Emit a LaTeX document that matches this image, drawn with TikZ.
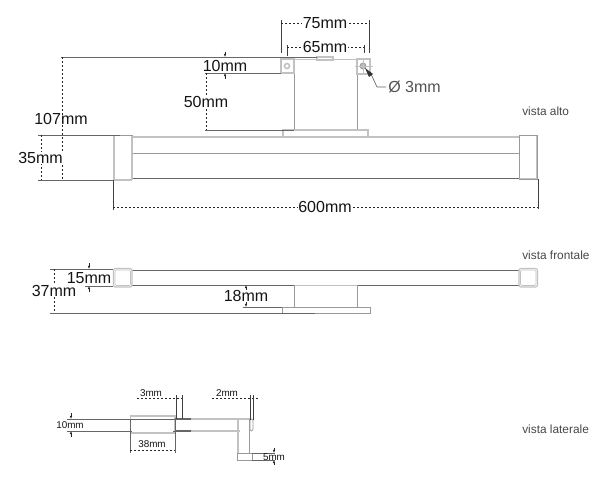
\documentclass[tikz,border=0pt]{standalone}
\usepackage{fontspec}
\setmainfont{Liberation Sans}
\usetikzlibrary{arrows.meta}
\definecolor{lnk}{gray}{0.40}
\definecolor{lnm}{gray}{0.60}
\definecolor{lnl}{gray}{0.76}
\definecolor{txk}{gray}{0.08}
\tikzset{
  part/.style={draw=lnm,line width=0.6pt},
  partl/.style={draw=lnl,line width=0.9pt},
  ref/.style={draw=lnk,line width=0.55pt},
  dim/.style={draw=black!85,line width=0.55pt,dash pattern=on 1.5pt off 1.5pt},
  dimv/.style={draw=black!75,line width=0.5pt},
  tick/.style={draw=black!85,line width=0.45pt,-{Latex[length=2.4pt,width=2pt]}},
  big/.style={text=txk,font=\fontsize{12}{13}\selectfont,inner sep=0.5pt,fill=white},
  bign/.style={text=txk,font=\fontsize{12}{13}\selectfont,inner sep=0pt},
  small/.style={text=txk,font=\fontsize{7.4}{8}\selectfont,inner sep=0pt},
  view/.style={text=black!72,font=\fontsize{8.9}{9}\selectfont,inner sep=0pt,anchor=west},
}
\begin{document}
\begin{tikzpicture}[x=0.75pt,y=-0.75pt]
\useasboundingbox (0,0) rectangle (600,478);
\begin{scope}
\clip (0,0) rectangle (600,478);
% ---- top view
\draw[partl] (132,137) -- (519,137);
\draw[part] (132,153) -- (519,153);
\draw[ref] (132,178) -- (519,178);
\draw[part] (113.5,135.5) rectangle (132,179.5);
\draw[lnl,line width=1.5pt] (114,135.5) -- (114,179.5) (114,179.5) -- (132,179.5);
\draw[lnl,line width=1.5pt] (131.5,135.5) -- (131.5,179.5);
\draw[part] (519,135.5) rectangle (537.5,179);
\draw[lnl,line width=1.2pt] (536.5,135.5) -- (536.5,179) (519,178.5) -- (537,178.5);
\draw[part] (294,59) rectangle (357,130);
\draw[partl] (283,130) rectangle (368,137);
\draw[partl] (281,59) rectangle (294,73);
\draw[partl] (357,59) rectangle (370,74);
\draw[partl] (317,57) rectangle (333,60);
\draw[partl,line width=1.2pt] (287,66) circle (2.5);
\draw[part,fill=lnm!70] (363,66) circle (3);
\draw[lnl,line width=0.5pt] (355,66) -- (373,66) (363,58) -- (363,75);
% references
\draw[ref] (61,57) -- (317,57);
\draw[lnl,line width=0.6pt] (294,59) -- (357,59);
\draw[ref] (38,135) -- (120,135);
\draw[ref] (38,180) -- (113,180);
\draw[ref] (205,73) -- (281,73);
\draw[ref] (205,130) -- (294,130);
\draw[dimv] (113,180) -- (113,210);
\draw[dimv] (538,179) -- (538,209);
\draw[dimv] (281,20) -- (281,53);
\draw[dimv] (369.5,20) -- (369.5,53);
\draw[dimv] (287,45) -- (287,56);
\draw[dimv] (364,45) -- (364,53);
% dimensions
\coordinate (a6l) at (113,207); \coordinate (a6r) at (538,207);
\draw[dim] (a6l) -- (a6r);
\node[big] (d600) at (325,207) {600mm};
\coordinate (a75l) at (281,23); \coordinate (a75r) at (369.5,23);
\draw[dim] (a75l) -- (a75r);
\node[big] (d75) at (325,23) {75mm};
\coordinate (a65l) at (287,47); \coordinate (a65r) at (364,47);
\draw[dim] (a65l) -- (a65r);
\node[big] (d65) at (325,47) {65mm};
\coordinate (a107t) at (62,57); \coordinate (a107b) at (62,180);
\draw[dim] (a107t) -- (a107b);
\node[bign] (d107) at (61,119) {107mm};
\coordinate (a35t) at (41,135); \coordinate (a35b) at (41,180);
\draw[dim] (a35t) -- (a35b);
\node[big] (d35) at (40.5,158) {35mm};
\coordinate (a50t) at (206,73); \coordinate (a50b) at (206,130);
\draw[dim] (a50t) -- (a50b);
\node[big] (d50) at (206,102) {50mm};
\draw[tick] (225,52) -- (225,57);
\draw[tick] (225,79) -- (225,73);
\node[bign] (d10) at (225,66) {10mm};
\coordinate (leadA) at (370,72); \coordinate (leadB) at (377,87); \coordinate (leadC) at (386,87);
\draw[dimv,lnk] (leadC) -- (leadB) -- (leadA);
\fill[black!80] (365,68) -- (373,74) -- (369,77) -- cycle;
\node[bign,text=black!68,anchor=west] (dphi) at (388,87) {Ø 3mm};
\node[view] (vAlto) at (522,111) {vista alto};
% ---- front view
\draw[ref] (132,270.5) -- (519,270.5);
\draw[ref] (132,285) -- (294,285) (357,285) -- (519,285);
\draw[lnl,line width=0.6pt] (294,285) -- (357,285);
\draw[partl,rounded corners=1.5pt] (113.5,268.5) rectangle (132,287);
\draw[lnl,line width=0.4pt,rounded corners=1pt] (115,270) rectangle (130.5,285.5);
\draw[partl,rounded corners=1.5pt] (519,268.5) rectangle (537.5,287);
\draw[lnl,line width=0.4pt,rounded corners=1pt] (520.5,270) rectangle (536,285.5);
\draw[part] (294,285) -- (294,307) (357,285) -- (357,307);
\draw[ref] (243,307) -- (357,307);
\draw[part] (282,307) rectangle (370,313);
\draw[ref] (50,269) -- (113,269);
\draw[ref] (85,286) -- (113,286);
\draw[ref] (50,313) -- (315,313);
\coordinate (a37t) at (54,269); \coordinate (a37b) at (54,313);
\draw[dim] (a37t) -- (a37b);
\node[big,inner sep=0.3pt] (d37) at (54,291) {37mm};
\draw[tick] (89,263) -- (89,269);
\draw[tick] (89,292) -- (89,286);
\node[bign] (d15) at (89,278) {15mm};
\draw[tick] (246,290) -- (246,285);
\draw[tick] (246,302) -- (246,307);
\node[bign] (d18) at (246,296) {18mm};
\node[view] (vFront) at (522,255) {vista frontale};
% ---- side view
\draw[ref] (67,419) -- (130,419);
\draw[ref] (67,431) -- (130,431);
\draw[lnl,line width=1.4pt] (130.5,416) rectangle (175,433);
\draw[ref] (130,419) -- (175,419) (130,431) -- (132,431) (173,431) -- (175,431);
\draw[part,draw=lnk] (130,419) -- (130,453) (175,419) -- (175,453);
\draw[lnl,line width=1.7pt] (178,419) -- (250,419);
\draw[lnl,line width=1.7pt] (238,419) -- (238,453);
\draw[part] (249,419) -- (249,453);
\draw[lnk,line width=0.8pt] (175,419) -- (191,419) (175,431) -- (191,431);
\draw[partl] (191,431) -- (240,431);
\draw[part] (237,453) rectangle (252,460);
\draw[part,rounded corners=1pt] (250,419) rectangle (253,431);
\draw[ref] (252,453) -- (275,453);
\draw[ref] (252,460) -- (275,460);
\coordinate (a38l) at (130,450); \coordinate (a38r) at (175,450);
\draw[dim] (a38l) -- (a38r);
\node[small,fill=white,inner sep=0.5pt] (d38) at (152,444) {38mm};
\draw[dim] (137,398) -- (182,398);
\draw[dimv] (176,395) -- (176,419) (182,395) -- (182,419);
\node[small] (d3) at (151,393) {3mm};
\draw[dim] (212,398) -- (258,398);
\draw[dimv] (250,395) -- (250,420) (253,395) -- (253,420);
\node[small] (d2) at (227,393) {2mm};
\draw[tick] (71,413) -- (71,419);
\draw[tick] (71,437) -- (71,431);
\node[small] (d10s) at (70,425) {10mm};
\draw[tick] (274,448) -- (274,453);
\draw[tick] (274,465) -- (274,460);
\node[small] (d5) at (274,457) {5mm};
\node[view] (vLat) at (522,429) {vista laterale};
\end{scope}
\end{tikzpicture}
\end{document}
